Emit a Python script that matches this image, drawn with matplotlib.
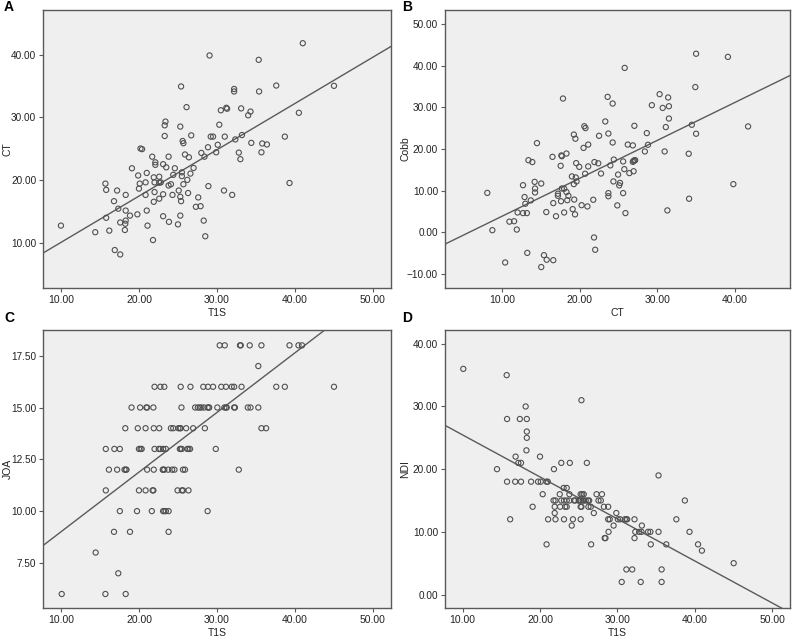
import matplotlib.pyplot as plt

plt.rcParams['font.family'] = ['Liberation Sans', 'DejaVu Sans']

# Panel A: T1S vs CT
a_t1s = [10.0, 14.4, 15.8, 15.7, 15.8, 16.2, 16.8, 16.9, 17.2, 17.35, 17.6, 17.6, 18.2, 18.25,
         18.3, 18.3, 18.3, 18.85, 19.1, 19.8, 19.9, 20.0, 20.1, 20.2, 20.4, 20.85, 20.85, 21.0,
         21.0, 21.1, 21.7, 21.8, 21.9, 21.9, 22.0, 22.0, 22.1, 22.1, 22.6, 22.6, 22.6, 22.8,
         23.1, 23.1, 23.1, 23.3, 23.3, 23.4, 23.5, 23.8, 23.8, 23.85, 24.1, 24.3, 24.4, 24.6,
         25.0, 25.1, 25.3, 25.3, 25.3, 25.4, 25.4, 25.5, 25.5, 25.6, 25.7, 25.7, 25.9, 26.1,
         26.2, 26.3, 26.4, 26.6, 26.7, 27.0, 27.3, 27.6, 27.9, 28.0, 28.3, 28.4, 28.5, 28.85,
         28.9, 29.05, 29.2, 29.5, 29.9, 30.1, 30.3, 30.5, 30.9, 31.0, 31.2, 31.3, 31.95, 32.2,
         32.2, 32.35, 32.8, 33.0, 33.1, 33.2, 34.0, 34.3, 34.4, 35.35, 35.4, 35.7, 35.8, 36.4,
         37.6, 38.7, 39.3, 40.5, 41.0, 45.0]
a_ct = [12.7, 11.65, 13.95, 19.4, 18.4, 11.9, 16.6, 8.8, 18.3, 15.4, 8.1, 13.2, 12.0, 13.0,
        17.6, 15.1, 13.5, 14.3, 21.85, 14.5, 20.7, 18.6, 19.4, 25.0, 24.9, 19.6, 17.6, 21.1,
        15.1, 12.7, 23.7, 10.4, 20.4, 16.5, 18.05, 19.6, 22.8, 22.4, 20.5, 17.0, 19.55, 19.6,
        14.2, 17.7, 22.5, 27.0, 28.7, 29.3, 22.0, 23.7, 19.1, 13.3, 19.3, 17.6, 20.8, 21.85,
        12.9, 18.3, 28.5, 17.3, 14.3, 34.9, 16.6, 21.2, 20.6, 26.2, 25.85, 19.3, 24.05, 31.6,
        20.0, 17.9, 23.6, 21.0, 27.1, 21.9, 15.7, 17.2, 15.8, 24.3, 13.5, 23.7, 11.0, 25.2,
        19.0, 39.85, 26.9, 26.9, 24.4, 25.6, 28.8, 31.1, 18.3, 26.9, 31.5, 31.35, 17.6, 34.5,
        34.1, 26.45, 24.35, 23.3, 31.4, 27.15, 30.3, 30.9, 25.9, 39.15, 34.1, 24.4, 25.8, 25.65,
        35.05, 26.9, 19.5, 30.7, 41.8, 35.0]
fit_a = [2.63, 0.739]

# Panel B: CT vs Cobb
b_ct = [8.1, 8.75, 10.4, 10.95, 11.55, 11.9, 12.0, 12.7, 12.7, 12.9, 13.0, 13.2, 13.25, 13.4,
        13.7, 13.9, 14.2, 14.25, 14.25, 14.5, 15.05, 15.05, 15.4, 15.7, 15.75, 16.5, 16.6, 16.6,
        16.95, 17.2, 17.2, 17.55, 17.6, 17.65, 17.7, 17.7, 17.85, 18.0, 18.0, 18.3, 18.3, 18.4,
        18.55, 19.0, 19.1, 19.25, 19.25, 19.3, 19.4, 19.45, 19.5, 19.55, 19.6, 19.95, 20.25,
        20.5, 20.6, 20.75, 20.7, 21.0, 21.1, 21.1, 21.75, 21.85, 21.9, 22.0, 22.4, 22.5, 22.75,
        23.3, 23.6, 23.7, 23.7, 23.7, 23.95, 24.25, 24.25, 24.35, 24.4, 24.85, 24.95, 25.1,
        25.2, 25.6, 25.6, 25.75, 25.8, 25.9, 26.2, 26.4, 26.85, 26.85, 26.95, 26.95, 27.05,
        27.15, 27.05, 28.4, 28.65, 28.8, 29.3, 30.3, 30.7, 30.95, 31.1, 31.3, 31.4, 31.5, 31.5,
        34.05, 34.1, 34.45, 34.9, 35.0, 35.0, 39.1, 39.8, 41.7]
b_cobb = [9.5, 0.55, -7.2, 2.6, 2.7, 0.7, 4.8, 11.35, 4.65, 8.5, 6.9, 4.65, -4.9, 17.35,
          7.7, 16.9, 12.15, 10.55, 9.6, 21.45, 11.75, -8.3, -5.45, 4.9, -6.55, 18.15, 7.05, -6.65,
          3.9, 9.3, 8.8, 16.0, 7.5, 18.5, 18.3, 10.55, 32.15, 10.5, 4.8, 18.95, 9.7, 7.75,
          8.8, 13.45, 5.6, 23.5, 11.6, 7.9, 4.35, 22.5, 13.2, 16.65, 12.25, 15.75, 6.55,
          20.3, 25.5, 25.05, 14.1, 6.25, 21.1, 15.85, 7.85, -1.2, 16.9, -4.15, 16.6, 23.2, 14.15,
          26.65, 32.55, 23.75, 9.45, 8.7, 16.1, 30.95, 21.6, 12.25, 17.5, 6.5, 13.9, 11.3,
          11.9, 9.45, 17.05, 15.2, 39.5, 4.65, 21.1, 14.25, 20.9, 16.95, 14.7, 17.2, 17.3,
          17.35, 25.6, 19.45, 23.85, 21.05, 30.55, 33.2, 29.9, 19.45, 25.3, 5.3, 32.4, 30.3, 27.35,
          18.9, 8.1, 25.85, 34.9, 42.9, 23.7, 42.15, 11.6, 25.45]
fit_b = [-5.21, 0.9105]

# Panel C: T1S vs JOA (one list of T1S values per JOA score)
c_rows = {
    18: [30.35, 31.0, 32.95, 33.05, 34.2, 35.7, 39.3, 40.45, 40.9],
    17: [35.3],
    16: [22.0, 22.75, 23.25, 25.35, 26.6, 28.25, 28.85, 29.5, 30.55, 31.15, 31.9, 32.2, 33.15,
         37.6, 38.7, 45.0],
    15: [19.05, 20.15, 20.95, 21.05, 21.85, 25.45, 27.2, 27.55, 27.8, 28.0, 28.35, 28.8, 28.95,
         29.0, 30.05, 30.95, 31.15, 31.25, 32.2, 32.3, 33.95, 34.3, 35.3],
    14: [18.25, 19.85, 20.85, 21.9, 22.6, 24.1, 24.4, 25.05, 25.25, 25.35, 26.05, 26.95, 28.45,
         35.7, 36.3],
    13: [15.75, 16.85, 17.55, 20.0, 20.2, 20.35, 22.0, 22.55, 22.75, 23.1, 23.45, 25.25, 25.35,
         25.5, 26.2, 26.35, 26.55, 29.85],
    12: [16.15, 17.2, 18.15, 18.3, 18.4, 21.05, 21.9, 23.05, 23.1, 23.25, 23.75, 24.25, 24.55,
         25.65, 25.9, 32.8],
    11: [15.75, 20.0, 20.85, 21.75, 21.85, 24.95, 25.5, 25.65, 26.35],
    10: [17.55, 19.75, 21.65, 23.1, 23.25, 23.45, 23.8, 28.8],
    9: [16.8, 18.85, 23.8],
    8: [14.45],
    7: [17.35],
    6: [10.1, 15.7, 18.3],
}
fit_c = [6.12, 0.288]

# Panel D: T1S vs NDI
d_t1s = [10.1, 15.7, 15.75, 15.75, 14.45, 16.15, 16.8, 16.85, 17.2, 17.4, 17.55, 17.55, 18.15,
         18.25, 18.3, 18.3, 18.3, 18.85, 19.05, 19.75, 20.0, 20.1, 20.35, 20.85, 21.0, 20.85,
         21.05, 21.75, 21.9, 21.9, 22.0, 21.8, 22.0, 22.55, 22.6, 22.75, 22.75, 23.05, 23.1,
         23.1, 23.25, 23.45, 23.45, 23.45, 23.8, 23.85, 23.8, 24.1, 24.25, 24.4, 24.55, 25.0,
         25.05, 25.25, 25.25, 25.25, 25.25, 25.35, 25.35, 25.45, 25.5, 25.65, 25.65, 25.9, 26.05,
         26.2, 26.25, 26.35, 26.55, 26.6, 26.95, 27.3, 27.55, 27.85, 28.0, 28.25, 28.35, 28.45,
         28.8, 28.8, 28.85, 29.0, 29.5, 29.85, 30.05, 30.35, 30.55, 30.95, 31.15, 31.15, 31.25,
         31.9, 32.2, 32.2, 32.3, 32.8, 33.0, 33.1, 33.15, 33.95, 34.25, 34.3, 35.3, 35.3, 35.7,
         35.7, 36.3, 37.6, 38.7, 39.3, 40.4, 40.9, 45.0]
d_ndi = [36, 35, 28, 18, 20, 12, 18, 22, 21, 28, 21, 18, 30,
         23, 28, 26, 25, 18, 14, 18, 22, 18, 16, 18, 18, 8,
         12, 15, 14, 13, 12, 20, 15, 16, 14, 21, 15, 17, 15,
         12, 14, 17, 15, 14, 16, 21, 15, 11, 12, 15, 15, 15,
         15, 16, 15, 14, 12, 31, 14, 16, 15, 16, 15, 15, 21,
         15, 14, 15, 14, 8, 13, 16, 15, 15, 16, 14, 9, 9,
         14, 12, 10, 12, 11, 13, 12, 12, 2, 12, 12, 4, 12,
         4, 12, 9, 10, 10, 2, 10, 11, 10, 10, 8, 10, 19, 4,
         2, 8, 12, 15, 10, 8, 7, 5]
fit_d = [32.18, -0.671]

c_t1s = []
c_joa = []
for score, xs in c_rows.items():
    c_t1s += xs
    c_joa += [score] * len(xs)

W, H = 794, 639
fig = plt.figure(figsize=(W / 100, H / 100), dpi=100)

# axes boxes in pixels: left, top, right, bottom ; letter position
boxes = {
    'A': ((43.3, 10, 390.7, 288.3), (4, 7)),
    'B': ((445, 10, 790, 288.3), (402, 7)),
    'C': ((43.3, 330, 390.7, 608.3), (4, 318)),
    'D': ((445, 330, 790, 608.3), (402, 318)),
}

panels = [
    ('A', a_t1s, a_ct, fit_a, 'T1S', 'CT', (7.74, 52.27), (2.7, 47.1), [10, 20, 30, 40, 50], [10, 20, 30, 40]),
    ('B', b_ct, b_cobb, fit_b, 'CT', 'Cobb', (2.65, 47.1), (-13.4, 53.4), [10, 20, 30, 40], [-10, 0, 10, 20, 30, 40, 50]),
    ('C', c_t1s, c_joa, fit_c, 'T1S', 'JOA', (7.74, 52.27), (5.31, 18.74), [10, 20, 30, 40, 50], [7.5, 10, 12.5, 15, 17.5]),
    ('D', d_t1s, d_ndi, fit_d, 'T1S', 'NDI', (7.74, 52.27), (-2.2, 42.2), [10, 20, 30, 40, 50], [0, 10, 20, 30, 40]),
]

edge = '#5a5a5a'
for name, xs, ys, fit, xlab, ylab, xlim, ylim, xt, yt in panels:
    (l, t, r, b), (lx, ly) = boxes[name]
    ax = fig.add_axes([l / W, 1 - b / H, (r - l) / W, (b - t) / H])
    ax.set_facecolor('#efefef')
    ax.scatter(xs, ys, s=14, facecolors='none', edgecolors='#505050', linewidths=0.8, zorder=3)
    ax.axline((0, fit[0]), slope=fit[1], color='#5a5a5a', linewidth=1.0, zorder=2)
    ax.set_xlim(xlim)
    ax.set_ylim(ylim)
    ax.set_xticks(xt)
    ax.set_yticks(yt)
    ax.set_xticklabels(['%.2f' % v for v in xt])
    ax.set_yticklabels([('%.2f' % v).replace('-', '\u2212') for v in yt])
    ax.tick_params(direction='out', length=3, width=0.8, color=edge, labelsize=7.5,
                   labelcolor='#222222', pad=2, top=False, right=False)
    ax.tick_params(axis='y', labelsize=7.2)
    for sp in ax.spines.values():
        sp.set_color(edge)
        sp.set_linewidth(1.0)
    ax.set_xlabel(xlab, fontsize=7.5, color='#222222', labelpad=2)
    ax.set_ylabel(ylab, fontsize=7.5, color='#222222')
    # label centre sits about 4 px from the panel's left edge
    ax.yaxis.set_label_coords((lx + 3.5 - l) / (r - l), 0.5)
    ax.yaxis.label.set_va('center')
    fig.text(lx / W, 1 - ly / H, name, fontsize=10, fontweight='bold', ha='left', va='center')

fig.savefig('out.png', dpi=100)
